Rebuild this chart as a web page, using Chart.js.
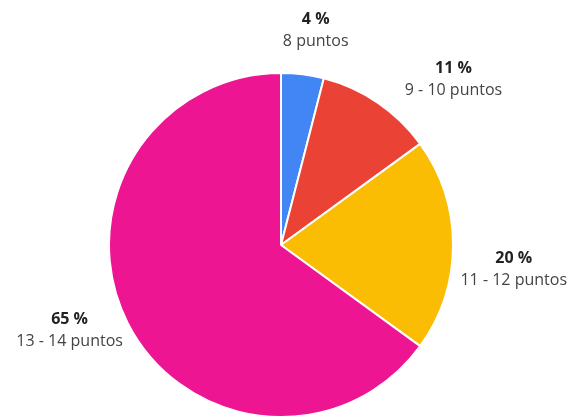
<!DOCTYPE html>
<html>
<head>
<meta charset="utf-8">
<script src="https://cdn.jsdelivr.net/npm/chart.js@4"></script>
<style>
  html, body { margin: 0; padding: 0; background: #fff; }
  #wrap { width: 573px; height: 418px; }
</style>
</head>
<body>
<div id="wrap"><canvas id="myChart" width="573" height="418"></canvas></div>
<script>
// data
const categories = ['8 puntos', '9 - 10 puntos', '11 - 12 puntos', '13 - 14 puntos'];
const percents = [4, 11, 20, 65];
const sliceColors = ['#4285F4', '#EA4335', '#FBBC04', '#EE1593'];

// draws "NN %" + category next to each slice
const outsideLabels = {
    id: 'outsideLabels',
    afterDatasetsDraw(chart, args, opts) {
        const ctx = chart.ctx;
        const arcs = chart.getDatasetMeta(0).data;
        arcs.forEach((arc, i) => {
            const mid = (arc.startAngle + arc.endAngle) / 2 + (opts.angleShift[i] || 0) * Math.PI / 180;
            const dist = arc.outerRadius + (opts.gap[i] || 58);
            const x = arc.x + Math.cos(mid) * dist;
            const y = arc.y + Math.sin(mid) * dist;
            ctx.save();
            ctx.textAlign = 'center';
            ctx.textBaseline = 'middle';
            ctx.fillStyle = '#222';
            ctx.font = 'bold 16px "Open Sans"';
            ctx.fillText(percents[i] + ' %', x, y - 11);
            ctx.fillStyle = '#444';
            ctx.font = '16px "Open Sans"';
            ctx.fillText(categories[i], x, y + 11);
            ctx.restore();
        });
    }
};

const ctx = document.getElementById('myChart').getContext('2d');
const myChart = new Chart(ctx, {
    type: 'pie',
    data: {
        labels: categories,
        datasets: [{
            data: percents,
            backgroundColor: sliceColors,
            borderColor: '#fff',
            borderWidth: 2
        }]
    },
    options: {
        responsive: false,
        animation: false,
        layout: { padding: { top: 72, bottom: 0, left: 100, right: 111 } },
        plugins: {
            legend: { display: false },
            tooltip: { enabled: false },
            outsideLabels: { angleShift: [2, 12, 6, 5], gap: [45, 67, 62, 56] }
        }
    },
    plugins: [outsideLabels]
});
</script>
</body>
</html>
